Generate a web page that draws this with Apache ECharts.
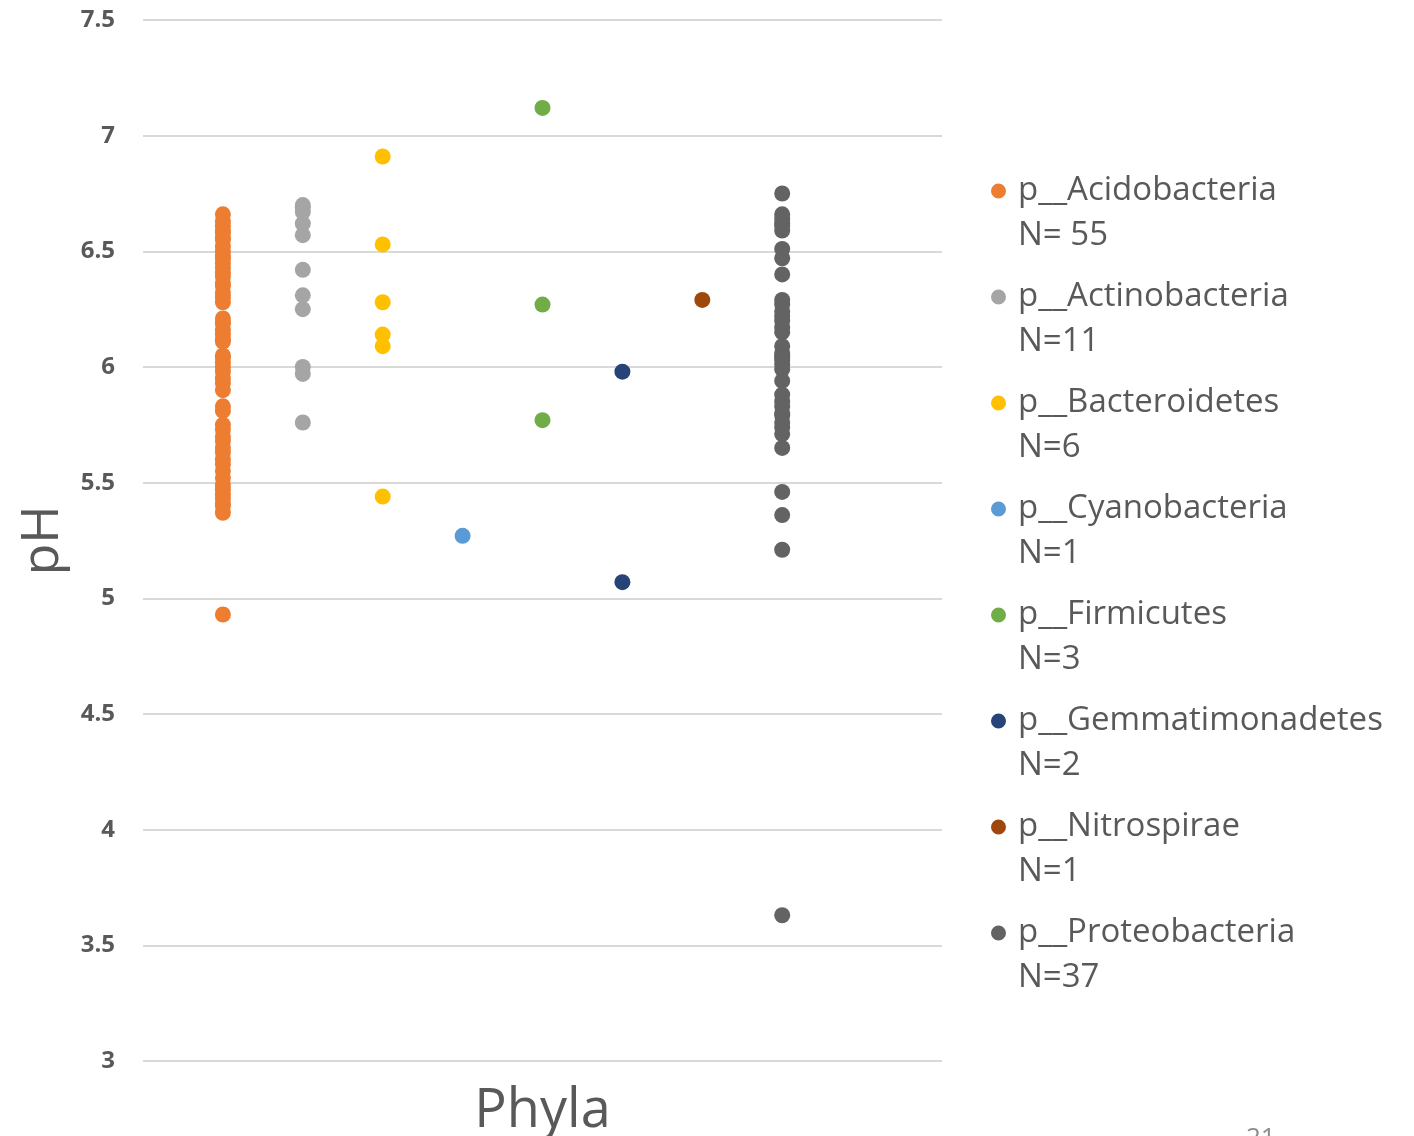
<!DOCTYPE html>
<html>
<head>
<meta charset="utf-8">
<script src="https://cdn.jsdelivr.net/npm/echarts@6/dist/echarts.min.js"></script>
<style>
  html, body { margin: 0; padding: 0; background: #fff; }
  #chart { width: 1414px; height: 1136px; }
</style>
</head>
<body>
<div id="chart"></div>
<script>
// phyla, one column each (x = 1..8)
var phyla = ['p__Acidobacteria', 'p__Actinobacteria', 'p__Bacteroidetes', 'p__Cyanobacteria',
  'p__Firmicutes', 'p__Gemmatimonadetes', 'p__Nitrospirae', 'p__Proteobacteria'];
var counts = ['N= 55', 'N=11', 'N=6', 'N=1', 'N=3', 'N=2', 'N=1', 'N=37'];
var colors = ['#ED7D31', '#A5A5A5', '#FFC000', '#5B9BD5', '#70AD47', '#264478', '#9E480E', '#636363'];

// pH values
var acidobacteria = [6.66, 6.63, 6.61, 6.59, 6.58, 6.56, 6.55, 6.52, 6.50, 6.48, 6.47, 6.45, 6.43, 6.41,
  6.39, 6.36, 6.35, 6.32, 6.30, 6.28, 6.21, 6.19, 6.19, 6.16, 6.14, 6.12, 6.11, 6.05, 6.04, 6.02,
  6.00, 5.98, 5.95, 5.93, 5.90, 5.83, 5.81, 5.75, 5.73, 5.70, 5.68, 5.65, 5.63, 5.60, 5.58, 5.55,
  5.52, 5.49, 5.47, 5.45, 5.43, 5.41, 5.40, 5.37, 4.93];
var actinobacteria = [6.70, 6.69, 6.67, 6.62, 6.57, 6.42, 6.31, 6.25, 6.00, 5.97, 5.76];
var bacteroidetes = [6.91, 6.53, 6.28, 6.14, 6.09, 5.44];
var cyanobacteria = [5.27];
var firmicutes = [7.12, 6.27, 5.77];
var gemmatimonadetes = [5.98, 5.07];
var nitrospirae = [6.29];
var proteobacteria = [6.75, 6.66, 6.64, 6.62, 6.61, 6.59, 6.51, 6.47, 6.40, 6.29, 6.27, 6.24, 6.22,
  6.20, 6.17, 6.15, 6.09, 6.06, 6.05, 6.04, 6.03, 6.01, 5.99, 5.94, 5.88, 5.85, 5.83, 5.80, 5.79,
  5.76, 5.74, 5.71, 5.65, 5.46, 5.36, 5.21, 3.63];

var values = [acidobacteria, actinobacteria, bacteroidetes, cyanobacteria,
  firmicutes, gemmatimonadetes, nitrospirae, proteobacteria];

var yTicks = [3, 3.5, 4, 4.5, 5, 5.5, 6, 6.5, 7, 7.5];

var textColor = '#595959';
var font = 'Open Sans';

// legend marker: dot at the top, tiny point at the bottom right to set the box
var dotIcon = 'path://M7.5,0A7.5,7.5,0,1,1,7.5,15A7.5,7.5,0,1,1,7.5,0Z M21.99,58.99L22,59L21.99,59Z';

var chart = echarts.init(document.getElementById('chart'));

var series = phyla.map(function (name, i) {
  return {
    name: name,
    type: 'scatter',
    symbol: 'circle',
    symbolSize: 16,
    itemStyle: { color: colors[i], opacity: 1 },
    data: values[i].map(function (v) { return [i + 1, v]; })
  };
});

chart.setOption({
  animation: false,
  textStyle: { fontFamily: font },
  grid: { left: 143, right: 472, top: 20, bottom: 75, outerBoundsMode: 'none' },
  xAxis: {
    type: 'value',
    min: 0,
    max: 10,
    name: 'Phyla',
    nameLocation: 'middle',
    nameGap: 24,
    nameTextStyle: { fontSize: 54, color: textColor, fontFamily: font, verticalAlign: 'top' },
    axisLine: { show: false },
    axisTick: { show: false },
    axisLabel: { show: false },
    splitLine: { show: false }
  },
  yAxis: {
    type: 'value',
    min: 3,
    max: 7.5,
    interval: 0.5,
    name: 'pH',
    nameLocation: 'middle',
    nameGap: 74,
    nameTextStyle: { fontSize: 52, color: textColor, fontFamily: font },
    axisLine: { show: false },
    axisTick: { show: false },
    axisLabel: {
      margin: 28,
      fontSize: 24,
      fontWeight: 'bold',
      color: textColor,
      fontFamily: font,
      formatter: function (v) {
        var t = yTicks.find(function (k) { return Math.abs(k - v) < 1e-9; });
        return t === undefined ? '' : String(t);
      }
    },
    splitLine: { lineStyle: { color: '#D9D9D9', width: 2 } }
  },
  legend: {
    orient: 'vertical',
    left: 986,
    top: 163,
    itemWidth: 22,
    itemHeight: 59,
    itemGap: 16,
    icon: dotIcon,
    data: phyla,
    formatter: function (name) {
      return name + '\n' + counts[phyla.indexOf(name)];
    },
    textStyle: { fontSize: 33, lineHeight: 45, color: textColor, fontFamily: font }
  },
  graphic: [{
    type: 'text',
    left: 1246,
    top: 1126,
    style: { text: '21', fontSize: 26, fill: '#8c8c8c', fontFamily: font }
  }],
  series: series
});
</script>
</body>
</html>
